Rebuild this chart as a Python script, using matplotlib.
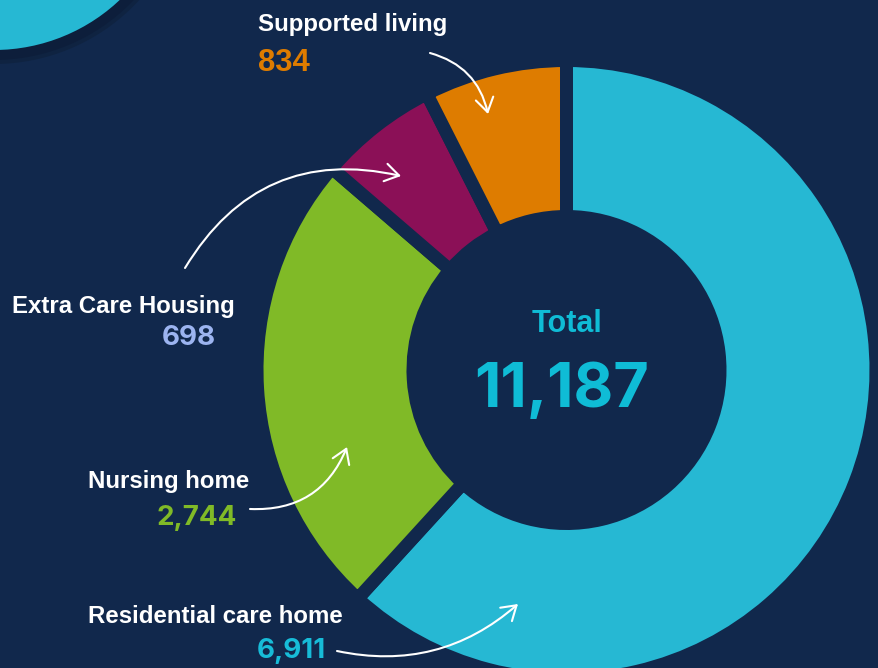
import matplotlib
matplotlib.use("Agg")
import matplotlib.pyplot as plt
from matplotlib.patches import Circle, FancyArrowPatch

# ---- data ----
categories = ["Residential care home", "Nursing home", "Extra Care Housing", "Supported living"]
values = [6911, 2744, 698, 834]
value_labels = ["6,911", "2,744", "698", "834"]
total_label = "11,187"

# ---- style ----
BG = "#11284c"
seg_colors = ["#26b8d3", "#80ba27", "#8b1057", "#de7c00"]
num_colors = ["#17bcd8", "#80ba27", "#9cb4f0", "#de7c00"]
W, H = 879, 668

fig = plt.figure(figsize=(W / 100, H / 100), dpi=100)
fig.patch.set_facecolor(BG)
ax = fig.add_axes([0, 0, 1, 1])
ax.set_facecolor(BG)

def Y(ypix):
    return H - ypix

# decorative circle top-left
ax.add_patch(Circle((-6, Y(-133)), 197, facecolor="#0f2341", edgecolor="none", zorder=1))
ax.add_patch(Circle((-6, Y(-133)), 193, facecolor="#0d1e3b", edgecolor="none", zorder=1))
ax.add_patch(Circle((-6, Y(-133)), 183, facecolor="#26b8d3", edgecolor="none", zorder=2))

# donut
gap = 13
cx, cy = 566.5, Y(370)
r_out, r_in = 303, 160
R = r_out + gap / 2
ax.pie(values, colors=seg_colors, startangle=90, counterclock=False,
       center=(cx, cy), radius=R,
       wedgeprops=dict(width=R - (r_in - gap / 2), edgecolor=BG,
                       linewidth=gap * 0.72, joinstyle="round"))

ax.set_xlim(0, W)
ax.set_ylim(0, H)
ax.set_aspect("auto")
ax.axis("off")

LBL = dict(family=["Liberation Sans", "DejaVu Sans"], weight="bold", color="white",
           fontsize=17.3, va="baseline")
NUM = ["Inter", "Lato", "DejaVu Sans"]

# labels
ax.text(258, Y(31), categories[3], ha="left", **LBL)
ax.text(258, Y(71), value_labels[3], ha="left", va="baseline", color=num_colors[3],
        family=["Liberation Sans", "DejaVu Sans"], weight="bold", fontsize=22.3)

ax.text(12, Y(313), categories[2], ha="left", **LBL)
ax.text(216, Y(345), value_labels[2], ha="right", va="baseline", color=num_colors[2],
        family=NUM, weight="bold", fontsize=20)

ax.text(88, Y(488), categories[1], ha="left", **LBL)
ax.text(237, Y(525), value_labels[1], ha="right", va="baseline", color=num_colors[1],
        family=NUM, weight="bold", fontsize=20)

ax.text(88, Y(623), categories[0], ha="left", **LBL)
ax.text(326, Y(658), value_labels[0], ha="right", va="baseline", color=num_colors[0],
        family=NUM, weight="bold", fontsize=20)

# center
ax.text(567, Y(332), "Total", ha="center", va="baseline", color="#0fbcd6",
        family=["Liberation Sans", "DejaVu Sans"], weight="bold", fontsize=22)
ax.text(561.5, Y(407), total_label, ha="center", va="baseline", color="#0fbcd6",
        family=NUM, weight="bold", fontsize=44)

# arrows
arrows = [
    ((430, 53), (488, 114), -0.3),
    ((185, 268), (401, 176), -0.36),
    ((250, 509), (347, 447), 0.35),
    ((337, 651), (518, 604), 0.25),
]
for (x1, y1), (x2, y2), rad in arrows:
    ax.add_patch(FancyArrowPatch((x1, Y(y1)), (x2, Y(y2)),
                                 connectionstyle=f"arc3,rad={rad}",
                                 arrowstyle="->,head_length=0.5,head_width=0.32",
                                 mutation_scale=20, color="white", lw=1.5,
                                 shrinkA=0, shrinkB=0, zorder=5))

fig.savefig("out.png", dpi=100, facecolor=BG)
